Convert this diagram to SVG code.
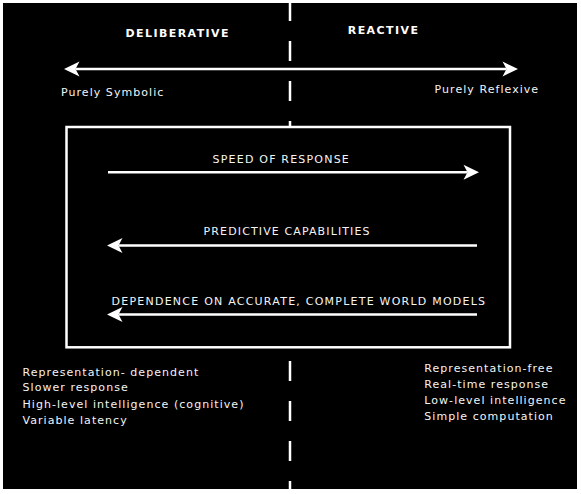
<svg xmlns="http://www.w3.org/2000/svg" width="581" height="494" viewBox="0 0 581 494">
<style>
text{font-family:"DejaVu Sans","Liberation Sans",sans-serif;font-size:11px;fill:#f4f4f4;letter-spacing:1.05px}
.h{font-weight:bold;letter-spacing:1.42px;fill:#ffffff}
.u{letter-spacing:1.2px}
.ln{stroke:#ffffff;stroke-width:2.5;fill:none}
</style>
<defs>
<marker id="ah" markerUnits="userSpaceOnUse" viewBox="-5 -8 18 16" refX="0" refY="0" markerWidth="18" markerHeight="16" orient="auto-start-reverse">
<path d="M11.5,0 L-4,-7.5 L0,0 L-4,7.5 Z" fill="#ffffff"/>
</marker>
</defs>
<rect x="0" y="0" width="581" height="494" fill="#ffffff"/>
<rect x="3" y="3" width="574" height="486" fill="#000000"/>
<line id="divider" x1="290" y1="1" x2="290" y2="494" stroke="#ffffff" stroke-width="2.5" stroke-dasharray="20 20"/>
<g id="deliberative"><text class="h" x="125.5" y="37.3">DELIBERATIVE</text></g>
<g id="reactive"><text class="h" x="347.8" y="34.3">REACTIVE</text></g>
<g id="purely-symbolic"><text x="61" y="95.7">Purely Symbolic</text></g>
<g id="purely-reflexive"><text x="434.6" y="93.4">Purely Reflexive</text></g>
<g id="box"><rect x="66.5" y="127" width="443.5" height="220.3" fill="#000000" stroke="#ffffff" stroke-width="2.5"/></g>
<g id="speed-label"><text class="u" x="212.6" y="162.7">SPEED OF RESPONSE</text></g>
<g id="predictive-label"><text class="u" x="203.6" y="235" style="letter-spacing:1.12px">PREDICTIVE CAPABILITIES</text></g>
<g id="dependence-label"><text class="u" x="111.6" y="305" style="letter-spacing:1.23px">DEPENDENCE ON ACCURATE, COMPLETE WORLD MODELS</text></g>
<g id="connectors">
<line class="ln" x1="75.5" y1="69" x2="506.5" y2="69" marker-start="url(#ah)" marker-end="url(#ah)"/>
<line class="ln" x1="108" y1="172.3" x2="467.5" y2="172.3" marker-end="url(#ah)"/>
<line class="ln" x1="477" y1="245.6" x2="118.5" y2="245.6" marker-end="url(#ah)"/>
<line class="ln" x1="477" y1="314.4" x2="118.5" y2="314.4" marker-end="url(#ah)"/>
</g>
<g id="deliberative-traits">
<text x="22.5" y="375.6">Representation- dependent</text>
<text x="22.5" y="390.6">Slower response</text>
<text x="22.5" y="408">High-level intelligence (cognitive)</text>
<text x="22.5" y="424">Variable latency</text>
</g>
<g id="reactive-traits">
<text x="424.3" y="372.3">Representation-free</text>
<text x="424.3" y="387.5">Real-time response</text>
<text x="424.3" y="404">Low-level intelligence</text>
<text x="424.3" y="419.5">Simple computation</text>
</g>
</svg>
